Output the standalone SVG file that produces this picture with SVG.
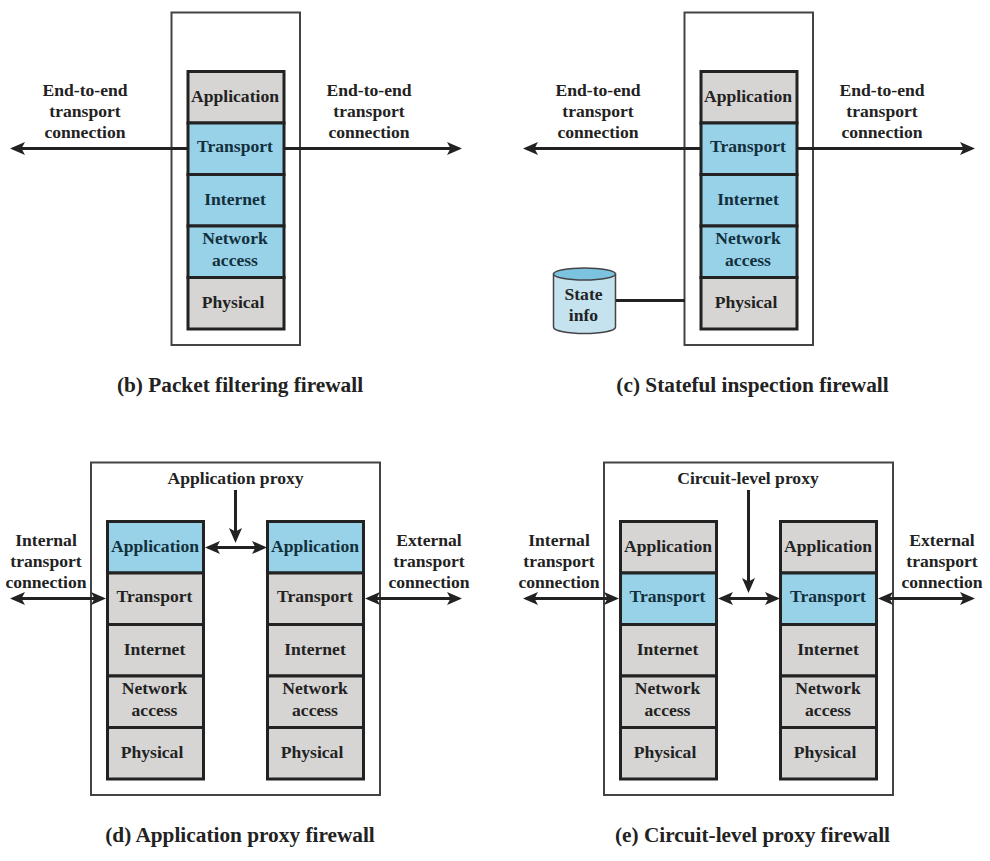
<svg xmlns="http://www.w3.org/2000/svg" width="990" height="861" viewBox="0 0 990 861">
<style>
text{font-family:"Liberation Serif","Times New Roman",serif;font-weight:700;font-size:17.600px;fill:#222;text-anchor:middle}
text.cap{font-size:21.300px}
.frame{fill:#fff;stroke:#444;stroke-width:2}
.g{fill:#d6d5d3;stroke:#222;stroke-width:3}
.b{fill:#98d2e9;stroke:#222;stroke-width:3}
.ln{fill:none;stroke:#222;stroke-width:3}
.t{fill:#12303c}
</style>
<defs>
<marker id="ah" viewBox="0 0 15 13" refX="12" refY="6.500" markerWidth="15" markerHeight="13" markerUnits="userSpaceOnUse" orient="auto-start-reverse"><path d="M0 0L15 6.500L0 13L3.500 6.500Z" fill="#222"/></marker>
</defs>
<g id="frames">
<rect class="frame" x="171.500" y="12.500" width="128.500" height="332.500"/>
<rect class="frame" x="684.500" y="12.500" width="128.500" height="332.500"/>
<rect class="frame" x="91" y="462.500" width="289" height="332.500"/>
<rect class="frame" x="604" y="462.500" width="289" height="332.500"/>
</g>
<g id="stack-b">
<rect class="g" x="188" y="71.500" width="96" height="51.500"/><rect class="b" x="188" y="123" width="96" height="51.500"/><rect class="b" x="188" y="174.500" width="96" height="51.500"/><rect class="b" x="188" y="226" width="96" height="51.500"/><rect class="g" x="188" y="277.500" width="96" height="51.500"/>
<text x="235" y="102">Application</text><text class="t" x="235" y="152">Transport</text><text class="t" x="235" y="205">Internet</text><text class="t" x="235" y="244">Network</text><text class="t" x="235" y="266">access</text><text x="233" y="308">Physical</text>
</g>
<g id="stack-c">
<rect class="g" x="701" y="71.500" width="96" height="51.500"/><rect class="b" x="701" y="123" width="96" height="51.500"/><rect class="b" x="701" y="174.500" width="96" height="51.500"/><rect class="b" x="701" y="226" width="96" height="51.500"/><rect class="g" x="701" y="277.500" width="96" height="51.500"/>
<text x="748" y="102">Application</text><text class="t" x="748" y="152">Transport</text><text class="t" x="748" y="205">Internet</text><text class="t" x="748" y="244">Network</text><text class="t" x="748" y="266">access</text><text x="746" y="308">Physical</text>
</g>
<g id="stack-d1">
<rect class="b" x="107.500" y="521.500" width="96" height="51.500"/><rect class="g" x="107.500" y="573" width="96" height="51.500"/><rect class="g" x="107.500" y="624.500" width="96" height="51.500"/><rect class="g" x="107.500" y="676" width="96" height="51.500"/><rect class="g" x="107.500" y="727.500" width="96" height="51.500"/>
<text class="t" x="155" y="552">Application</text><text x="154.500" y="602">Transport</text><text x="154.500" y="655">Internet</text><text x="154.500" y="694">Network</text><text x="154.500" y="716">access</text><text x="152" y="758">Physical</text>
</g>
<g id="stack-d2">
<rect class="b" x="267.500" y="521.500" width="96" height="51.500"/><rect class="g" x="267.500" y="573" width="96" height="51.500"/><rect class="g" x="267.500" y="624.500" width="96" height="51.500"/><rect class="g" x="267.500" y="676" width="96" height="51.500"/><rect class="g" x="267.500" y="727.500" width="96" height="51.500"/>
<text class="t" x="315" y="552">Application</text><text x="315" y="602">Transport</text><text x="315" y="655">Internet</text><text x="315" y="694">Network</text><text x="315" y="716">access</text><text x="312" y="758">Physical</text>
</g>
<g id="stack-e1">
<rect class="g" x="620.500" y="521.500" width="96" height="51.500"/><rect class="b" x="620.500" y="573" width="96" height="51.500"/><rect class="g" x="620.500" y="624.500" width="96" height="51.500"/><rect class="g" x="620.500" y="676" width="96" height="51.500"/><rect class="g" x="620.500" y="727.500" width="96" height="51.500"/>
<text x="668" y="552">Application</text><text class="t" x="667.500" y="602">Transport</text><text x="667.500" y="655">Internet</text><text x="667.500" y="694">Network</text><text x="667.500" y="716">access</text><text x="665" y="758">Physical</text>
</g>
<g id="stack-e2">
<rect class="g" x="780.500" y="521.500" width="96" height="51.500"/><rect class="b" x="780.500" y="573" width="96" height="51.500"/><rect class="g" x="780.500" y="624.500" width="96" height="51.500"/><rect class="g" x="780.500" y="676" width="96" height="51.500"/><rect class="g" x="780.500" y="727.500" width="96" height="51.500"/>
<text x="828" y="552">Application</text><text class="t" x="828" y="602">Transport</text><text x="828" y="655">Internet</text><text x="828" y="694">Network</text><text x="828" y="716">access</text><text x="825" y="758">Physical</text>
</g>
<g id="state-info">
<path d="M553.500 274V327C553.500 331 568 333.500 584.500 333.500S615.500 331 615.500 327V274Z" fill="#c5e2ef" stroke="#444" stroke-width="1.500"/>
<ellipse cx="584.500" cy="274" rx="31" ry="6" fill="#7cc3e0" stroke="#444" stroke-width="1.500"/>
<text x="583.500" y="300">State</text><text x="583.500" y="321">info</text>
</g>
<g id="connectors">
<path class="ln" marker-start="url(#ah)" d="M13 148.500H188"/><path class="ln" marker-end="url(#ah)" d="M284 148.500H459"/>
<path class="ln" marker-start="url(#ah)" d="M526 148.500H701"/><path class="ln" marker-end="url(#ah)" d="M797 148.500H972"/>
<path class="ln" d="M616 300.500H685"/>
<path class="ln" marker-start="url(#ah)" marker-end="url(#ah)" d="M13 598.500H103"/><path class="ln" marker-start="url(#ah)" marker-end="url(#ah)" d="M368 598.500H459"/>
<path class="ln" marker-start="url(#ah)" marker-end="url(#ah)" d="M208 547.500H264"/><path class="ln" marker-end="url(#ah)" d="M235.500 490V540"/>
<path class="ln" marker-start="url(#ah)" marker-end="url(#ah)" d="M526 598.500H616"/><path class="ln" marker-start="url(#ah)" marker-end="url(#ah)" d="M881 598.500H972"/>
<path class="ln" marker-start="url(#ah)" marker-end="url(#ah)" d="M721 598.500H777"/><path class="ln" marker-end="url(#ah)" d="M748.500 490V590"/>
</g>
<g id="labels">
<text x="85" y="96">End-to-end</text><text x="85" y="117">transport</text><text x="85" y="138">connection</text>
<text x="369" y="96">End-to-end</text><text x="369" y="117">transport</text><text x="369" y="138">connection</text>
<text x="598" y="96">End-to-end</text><text x="598" y="117">transport</text><text x="598" y="138">connection</text>
<text x="882" y="96">End-to-end</text><text x="882" y="117">transport</text><text x="882" y="138">connection</text>
<text x="46" y="546">Internal</text><text x="46" y="567">transport</text><text x="46" y="588">connection</text>
<text x="429" y="546">External</text><text x="429" y="567">transport</text><text x="429" y="588">connection</text>
<text x="559" y="546">Internal</text><text x="559" y="567">transport</text><text x="559" y="588">connection</text>
<text x="942" y="546">External</text><text x="942" y="567">transport</text><text x="942" y="588">connection</text>
<text x="235.500" y="484">Application proxy</text>
<text x="748" y="484">Circuit-level proxy</text>
<text class="cap" x="240" y="391.500">(b) Packet filtering firewall</text>
<text class="cap" x="752.500" y="391.500">(c) Stateful inspection firewall</text>
<text class="cap" x="240" y="841.500">(d) Application proxy firewall</text>
<text class="cap" x="752.500" y="841.500">(e) Circuit-level proxy firewall</text>
</g>
</svg>
